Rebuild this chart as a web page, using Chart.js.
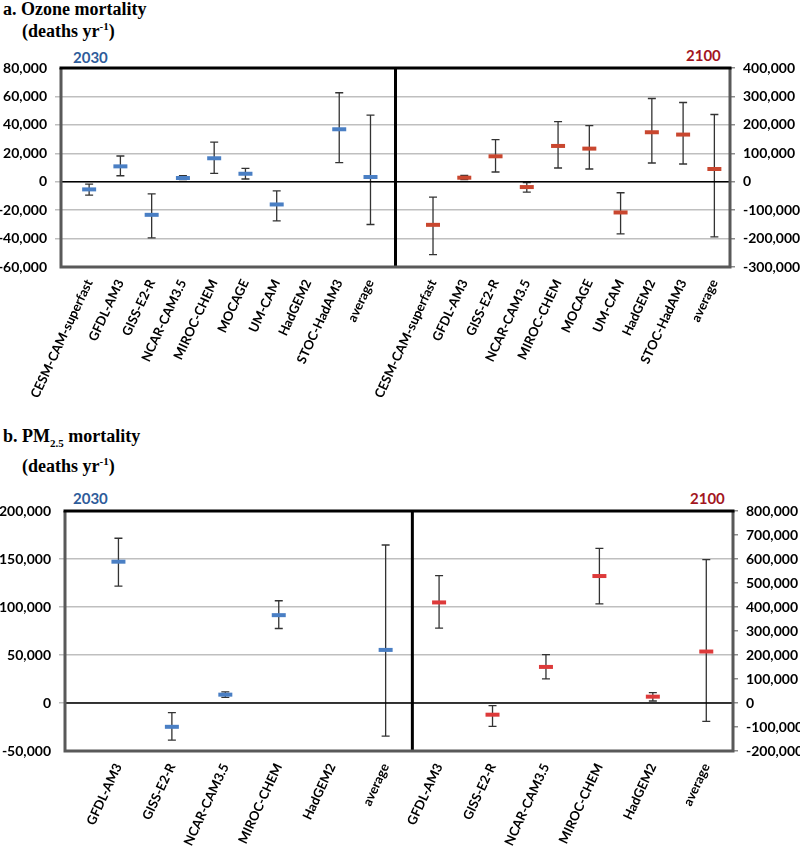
<!DOCTYPE html>
<html>
<head>
<meta charset="utf-8">
<script src="https://cdn.jsdelivr.net/npm/chart.js@4/dist/chart.umd.min.js"></script>
<style>
  body { margin: 0; background: #fff; }
  #wrap { position: relative; width: 800px; height: 848px; overflow: hidden; }
  .ttl { position: absolute; font-family: "Liberation Serif", serif; font-weight: bold; font-size: 18px; color: #000; white-space: nowrap; }
  .yr { position: absolute; font-family: Lato, "Open Sans", sans-serif; font-weight: bold; font-size: 15px; }
  canvas { position: absolute; left: 0; }
</style>
</head>
<body>
<div id="wrap">
  <div class="ttl" style="left:3px;top:-1px">a. Ozone mortality</div>
  <div class="ttl" style="left:22px;top:20px">(deaths yr<sup style="font-size:11px">-1</sup>)</div>
  <div class="yr" style="left:73px;top:48px;color:#2E5C9A">2030</div>
  <div class="yr" style="left:686px;top:46px;color:#A3161E">2100</div>

  <div class="ttl" style="left:3px;top:426px">b. PM<sub style="font-size:11px">2.5</sub> mortality</div>
  <div class="ttl" style="left:22px;top:455px">(deaths yr<sup style="font-size:11px">-1</sup>)</div>
  <div class="yr" style="left:73px;top:489px;color:#2E5C9A">2030</div>
  <div class="yr" style="left:690px;top:489px;color:#A3161E">2100</div>

  <canvas id="ozone" width="800" height="420" style="top:0"></canvas>
  <canvas id="pm" width="800" height="378" style="top:470px"></canvas>
</div>
<script>
// a. ozone mortality (deaths/yr), central value and error-bar ends
const ozoneModels = ['CESM-CAM-superfast', 'GFDL-AM3', 'GISS-E2-R', 'NCAR-CAM3.5', 'MIROC-CHEM', 'MOCAGE', 'UM-CAM', 'HadGEM2', 'STOC-HadAM3', 'average'];
const ozone2030 = [-5400, 10800, -23300, 2600, 16500, 5600, -16000, null, 36900, 3300];
const ozone2030Lo = [-9400, 4200, -39500, 1400, 5900, 1900, -27500, null, 13400, -30100];
const ozone2030Hi = [-1700, 18100, -8500, 4200, 27800, 9400, -6400, null, 62600, 46800];
const ozone2100 = [-151700, 14100, 89400, -18800, 125800, 116400, -108200, 174000, 165800, 44700];
const ozone2100Lo = [-256400, 7000, 34100, -36500, 48200, 44700, -183500, 65900, 62300, -194000];
const ozone2100Hi = [-54100, 22300, 148200, -3500, 211700, 197600, -38800, 292800, 278700, 236400];

// b. PM2.5 mortality
const pmModels = ['GFDL-AM3', 'GISS-E2-R', 'NCAR-CAM3.5', 'MIROC-CHEM', 'HadGEM2', 'average'];
const pm2030 = [147200, -24800, 8700, 91500, null, 55300];
const pm2030Lo = [121800, -38600, 5900, 77600, null, -34500];
const pm2030Hi = [171600, -10000, 11500, 106500, null, 164600];
const pm2100 = [419000, -48700, 150300, 529000, 26400, 214400];
const pm2100Lo = [311800, -97400, 100200, 413400, 8400, -76600];
const pm2100Hi = [530400, -11100, 201800, 644500, 43200, 597200];

const tickFont = { family: 'Lato, "Open Sans", sans-serif', weight: 'bold', size: 14 };
const nameFont = { family: 'Lato, "Open Sans", sans-serif', weight: 'bold', size: 13 };
const fmt = v => Number(v).toLocaleString('en-US');

// error bars under the markers, drawn through each dataset's own y scale
const errorBars = {
  id: 'errorBars',
  beforeDatasetsDraw(chart) {
    const ctx = chart.ctx;
    ctx.save();
    ctx.strokeStyle = '#333'; ctx.lineWidth = 1.3;
    chart.data.datasets.forEach((ds, i) => {
      const meta = chart.getDatasetMeta(i), ys = chart.scales[ds.yAxisID];
      ds.data.forEach((p, j) => {
        if (p.y == null) return;
        const x = meta.data[j].x, lo = ys.getPixelForValue(ds.lo[j]), hi = ys.getPixelForValue(ds.hi[j]);
        ctx.beginPath();
        ctx.moveTo(x, lo); ctx.lineTo(x, hi);
        ctx.moveTo(x - 4, lo); ctx.lineTo(x + 4, lo);
        ctx.moveTo(x - 4, hi); ctx.lineTo(x + 4, hi);
        ctx.stroke();
      });
    });
    ctx.restore();
  },
  // frame, zero line and the divider between the two years
  afterDatasetsDraw(chart, args, opts) {
    const { ctx, chartArea: a, scales } = chart;
    ctx.save();
    const y0 = scales.y.getPixelForValue(0);
    ctx.strokeStyle = '#000'; ctx.lineWidth = 1.5;
    ctx.beginPath(); ctx.moveTo(a.left, y0); ctx.lineTo(a.right, y0); ctx.stroke();
    ctx.lineWidth = 3;
    const xd = scales.x.getPixelForValue(opts.divider);
    ctx.beginPath(); ctx.moveTo(xd, a.top); ctx.lineTo(xd, a.bottom); ctx.stroke();
    ctx.strokeStyle = '#595959';
    ctx.beginPath();
    ctx.moveTo(a.left, a.top); ctx.lineTo(a.left, a.bottom); ctx.lineTo(a.right, a.bottom); ctx.lineTo(a.right, a.top);
    ctx.stroke();
    ctx.strokeStyle = '#000';
    ctx.beginPath(); ctx.moveTo(a.left - 1.5, a.top); ctx.lineTo(a.right + 1.5, a.top); ctx.stroke();
    ctx.restore();
  }
};

function series(vals, lo, hi, offset, color, axis) {
  return {
    data: vals.map((v, i) => ({ x: i + offset, y: v })),
    lo, hi, yAxisID: axis,
    pointStyle: 'line', pointRadius: 7, pointHoverRadius: 7,
    pointBorderWidth: 4, borderColor: color, backgroundColor: color, showLine: false
  };
}

function makeChart(id, cfg) {
  const fixW = w => s => { s.width = w; };
  const names = cfg.names;
  return new Chart(document.getElementById(id), {
    type: 'scatter',
    data: { datasets: cfg.datasets },
    plugins: [errorBars],
    options: {
      responsive: false, animation: false, events: [],
      layout: { padding: { top: cfg.top, left: 0, right: 0, bottom: 0 } },
      plugins: { legend: { display: false }, tooltip: { enabled: false }, errorBars: { divider: cfg.divider } },
      scales: {
        x: {
          type: 'linear', min: cfg.xMin, max: cfg.xMax,
          afterBuildTicks: s => { s.ticks = cfg.positions.map(v => ({ value: v })); },
          afterFit: s => { s.height = cfg.xHeight; },
          grid: { display: false, drawTicks: false }, border: { display: false },
          ticks: { autoSkip: false, minRotation: 65, maxRotation: 65, padding: 10, color: '#000', font: nameFont,
            callback: v => names[v < cfg.split ? v : v - cfg.split] }
        },
        y: {
          position: 'left', min: cfg.yMin, max: cfg.yMax,
          afterFit: fixW(cfg.leftW),
          afterBuildTicks: s => { s.ticks = []; for (let v = cfg.yMin; v <= cfg.yMax; v += cfg.yStep) s.ticks.push({ value: v }); },
          border: { display: false },
          grid: { lineWidth: 1.5, tickLength: 6, color: c => (c.tick && (c.tick.value === cfg.yMin || c.tick.value === cfg.yMax)) ? 'rgba(0,0,0,0)' : '#BFBFBF' },
          ticks: { padding: 8, color: '#000', font: tickFont, callback: fmt }
        },
        y2: {
          position: 'right', min: cfg.y2Min, max: cfg.y2Max,
          afterFit: fixW(cfg.rightW),
          afterBuildTicks: s => { s.ticks = []; for (let v = cfg.y2Min; v <= cfg.y2Max; v += cfg.y2Step) s.ticks.push({ value: v }); },
          border: { display: false },
          grid: { drawOnChartArea: false, tickLength: 5, lineWidth: 1.5, color: '#8C8C8C' },
          ticks: { padding: 8, color: '#000', font: tickFont, callback: fmt }
        }
      }
    }
  });
}

const ozPos = ozoneModels.map((_, i) => i).concat(ozoneModels.map((_, i) => i + 11));
makeChart('ozone', {
  names: ozoneModels, split: 11, positions: ozPos, xMin: -0.9, xMax: 20.5, divider: 9.8,
  top: 68, xHeight: 153, leftW: 61, rightW: 70,
  yMin: -60000, yMax: 80000, yStep: 20000, y2Min: -300000, y2Max: 400000, y2Step: 100000,
  datasets: [
    series(ozone2030, ozone2030Lo, ozone2030Hi, 0, '#4A7FC4', 'y'),
    series(ozone2100, ozone2100Lo, ozone2100Hi, 11, '#C9472F', 'y2')
  ]
});

const pmPos = pmModels.map((_, i) => i).concat(pmModels.map((_, i) => i + 6));
makeChart('pm', {
  names: pmModels, split: 6, positions: pmPos, xMin: -1, xMax: 11.5, divider: 5.5,
  top: 41, xHeight: 97, leftW: 65, rightW: 67,
  yMin: -50000, yMax: 200000, yStep: 50000, y2Min: -200000, y2Max: 800000, y2Step: 100000,
  datasets: [
    series(pm2030, pm2030Lo, pm2030Hi, 0, '#4A7FC4', 'y'),
    series(pm2100, pm2100Lo, pm2100Hi, 6, '#DD3A3A', 'y2')
  ]
});
</script>
</body>
</html>
